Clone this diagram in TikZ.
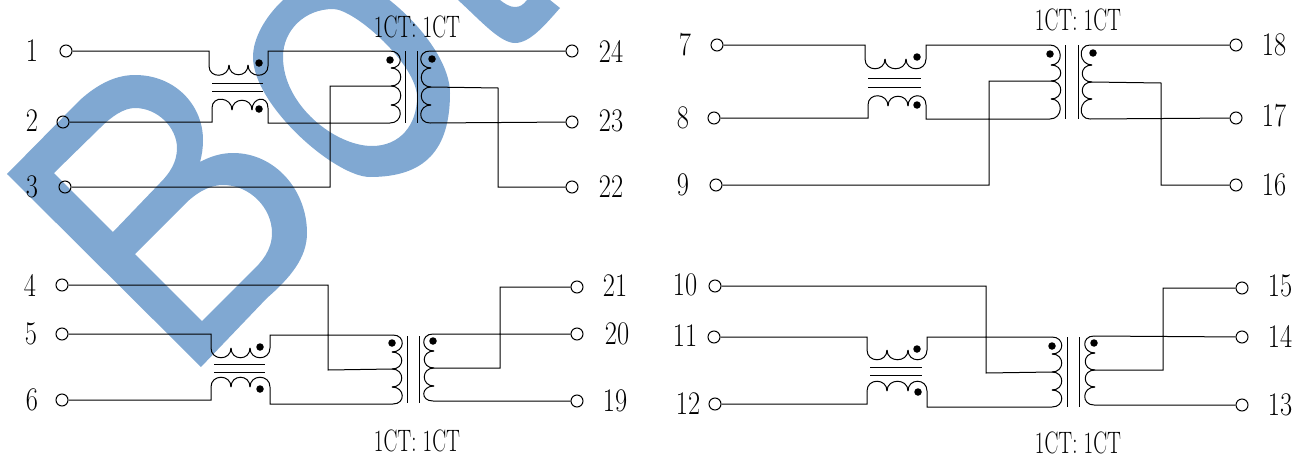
\documentclass[tikz,border=0pt]{standalone}
\definecolor{markblue}{HTML}{80A8D2}
\tikzset{
  wire/.style = {line width=1pt, black},
  pin/.style = {circle, draw, line width=1pt, inner sep=0pt, minimum size=12pt},
  pinlabel/.style = {inner sep=0pt, xscale=.8, font=\fontsize{33}{33}\selectfont},
  ratio/.style = {inner sep=0pt, xscale=.67, font=\fontsize{31}{31}\selectfont},
  dotmark/.style = {circle, fill=black, inner sep=0pt, minimum size=7.5pt}
}
\begin{document}
\begin{tikzpicture}[x=1pt, y=-1pt]
    \useasboundingbox (0,0) rectangle (1304,458);
    % watermark
    \begin{scope}
      \clip (0,0) rectangle (1304,458);
      \fill[markblue, even odd rule]
        (7,174) -- (80,100) .. controls (100,82) and (118,75) .. (135,75)
        .. controls (175,75) and (203,105) .. (203,140)
        .. controls (203,148) and (202,155) .. (200,162)
        .. controls (211,156) and (222,153) .. (233,153)
        .. controls (275,153) and (307,190) .. (307,233)
        .. controls (307,258) and (290,278) .. (267,298) -- (201,367) -- cycle
        (54,173) -- (100,128) .. controls (112,116) and (124,108) .. (135,108)
        .. controls (158,108) and (177,128) .. (177,148)
        .. controls (177,162) and (170,173) .. (160,183) -- (113,232) -- cycle
        (135,254) -- (187,202) .. controls (200,190) and (212,185) .. (223,185)
        .. controls (250,185) and (272,208) .. (272,233)
        .. controls (272,250) and (262,262) .. (250,273) -- (202,321) -- cycle
      ;
      \fill[markblue, even odd rule]
        (253,57) .. controls (253,20) and (300,-25) .. (335,-25)
        .. controls (375,-25) and (450,45) .. (450,93)
        .. controls (450,150) and (425,177) .. (370,177)
        .. controls (335,177) and (253,105) .. (253,57) -- cycle
        (283,57) .. controls (283,30) and (305,9) .. (333,9)
        .. controls (355,9) and (417,65) .. (417,97)
        .. controls (417,125) and (400,146) .. (372,146)
        .. controls (335,146) and (283,105) .. (283,57) -- cycle
      ;
      \fill[markblue]
        (458,0) .. controls (480,20) and (500,43) .. (515,43)
        .. controls (530,43) and (545,25) .. (560,8) -- (550,0) -- (527,0)
        .. controls (523,5) and (520,7) .. (515,7)
        .. controls (510,7) and (505,4) .. (500,0) -- cycle
      ;
    \end{scope}
    % define points
    \path
      (209,66) coordinate(AT0) (229,65) coordinate(AT1) (248,65) coordinate(AT2) (268,66) coordinate(AT3)
      (212,108) coordinate(AL0) (232,110) coordinate(AL1) (252,110) coordinate(AL2) (268,108) coordinate(AL3)
      (390,51) coordinate(AP0) (391,68) coordinate(AP1) (391,86) coordinate(AP2) (391,105) coordinate(AP3) (390,123) coordinate(AP4)
      (430,51) coordinate(AS0) (431,68) coordinate(AS1) (431,87) coordinate(AS2) (431,105) coordinate(AS3) (430,123) coordinate(AS4)
      (330,86) coordinate(AK) (498,88) coordinate(AR)
      (865,59) coordinate(BT0) (885,59) coordinate(BT1) (906,59) coordinate(BT2) (926,59) coordinate(BT3)
      (868,105) coordinate(BL0) (888,106) coordinate(BL1) (908,106) coordinate(BL2) (926,105) coordinate(BL3)
      (1050,45) coordinate(BP0) (1051,65) coordinate(BP1) (1051,81) coordinate(BP2) (1051,99) coordinate(BP3) (1050,119) coordinate(BP4)
      (1090,45) coordinate(BS0) (1092,65) coordinate(BS1) (1092,82) coordinate(BS2) (1092,99) coordinate(BS3) (1090,119) coordinate(BS4)
      (989,81) coordinate(BK) (1161,83) coordinate(BR)
      (211,348) coordinate(CT0) (231,348) coordinate(CT1) (250,348) coordinate(CT2) (270,348) coordinate(CT3)
      (211,387) coordinate(CL0) (231,387) coordinate(CL1) (250,387) coordinate(CL2) (270,387) coordinate(CL3)
      (393,335) coordinate(CP0) (392,352) coordinate(CP1) (392,369) coordinate(CP2) (392,387) coordinate(CP3) (393,404) coordinate(CP4)
      (433,334) coordinate(CS0) (434,351) coordinate(CS1) (434,368) coordinate(CS2) (434,386) coordinate(CS3) (433,401) coordinate(CS4)
      (328,370) coordinate(CK) (500,368) coordinate(CR)
      (867,350) coordinate(DT0) (887,350) coordinate(DT1) (908,350) coordinate(DT2) (927,350) coordinate(DT3)
      (867,391) coordinate(DL0) (887,391) coordinate(DL1) (908,391) coordinate(DL2) (927,391) coordinate(DL3)
      (1052,337) coordinate(DP0) (1052,354) coordinate(DP1) (1052,372) coordinate(DP2) (1052,390) coordinate(DP3) (1052,407) coordinate(DP4)
      (1094,336) coordinate(DS0) (1095,353) coordinate(DS1) (1095,370) coordinate(DS2) (1095,387) coordinate(DS3) (1094,405) coordinate(DS4)
      (986,373) coordinate(DK) (1163,370) coordinate(DR)
    ;
    % pins and their numbers
    \foreach \n/\x/\y/\a/\b in {
      1/66/51/32/51, 2/63/122/32/121, 3/65/187/32/187,
      24/572/51/611/51, 23/572/122/611/121, 22/572/187/611/187,
      7/717/45/685/45, 8/714/118/683/118, 9/716/185/683/185,
      18/1236/45/1274/45, 17/1236/118/1274/116, 16/1236/185/1274/185,
      4/62/285/30/285, 5/62/334/31/334, 6/62/400/32/400,
      21/577/287/615/286, 20/577/334/617/334, 19/577/401/615/401,
      10/715/286/685/285, 11/714/337/685/336, 12/715/404/688/404,
      15/1242/288/1280/286, 14/1242/337/1280/336, 13/1242/405/1280/405}{
      \node[pin] (p\n) at (\x,\y) {};
      \node[pinlabel] (n\n) at (\a,\b) {\n};
    }
    % windings
    \foreach \q in {A,B,C,D}{
      \foreach \c/\e/\f in {T/0/13,L/0/-13}
        \foreach \i/\j in {0/1,1/2,2/3}
          \draw[wire] (\q\c\i) .. controls +(\e,\f) and +(\e,\f) .. (\q\c\j);
      \foreach \c/\e/\f in {P/13/0,S/-13/0}
        \foreach \i/\j in {0/1,1/2,2/3,3/4}
          \draw[wire] (\q\c\i) .. controls +(\e,\f) and +(\e,\f) .. (\q\c\j);
    }
    % draw lines
    \foreach \q/\ia/\ib/\ic/\oa/\ob/\oc in {
      A/1/2/3/24/23/22, B/7/8/9/18/17/16, C/5/6/4/20/19/21, D/11/12/10/14/13/15}{
      \draw[wire]
        (p\ia) -| (\q T0)
        (\q T3) |- (\q P0)
        (p\ib) -| (\q L0)
        (\q L3) |- (\q P4)
        (p\ic) -| (\q K) -- (\q P2)
        (\q S0) -- (p\oa)
        (\q S4) -- (p\ob)
        (\q S2) -- (\q R) |- (p\oc)
      ;
    }
    % core plates
    \draw[wire]
      (212,83) -- (263,83) (212,91) -- (263,91) (405,51) -- (405,123) (417,51) -- (417,123)
      (868,78) -- (921,78) (868,87) -- (921,87) (1065,45) -- (1065,119) (1078,45) -- (1078,119)
      (214,364) -- (265,364) (214,372) -- (265,372) (407,336) -- (407,403) (419,336) -- (419,403)
      (870,367) -- (922,367) (870,375) -- (922,375) (1067,337) -- (1067,407) (1079,337) -- (1079,407)
    ;
    % polarity dots
    \foreach \n/\x/\y in {
      a1/259/63, a2/259/109, a3/390/60, a4/432/59,
      b1/917/57, b2/917/105, b3/1050/54, b4/1093/53,
      c1/260/347, c2/260/389, c3/392/343, c4/433/341,
      d1/917/349, d2/918/392, d3/1052/346, d4/1094/343}{
      \node[dotmark] (\n) at (\x,\y) {};
    }
    % labels
    \foreach \n/\x/\y in {A/417/27, B/1078/20, C/417/441, D/1078/443}{
      \node[ratio] (r\n) at (\x,\y) {1CT: 1CT};
    }
\end{tikzpicture}
\end{document}
